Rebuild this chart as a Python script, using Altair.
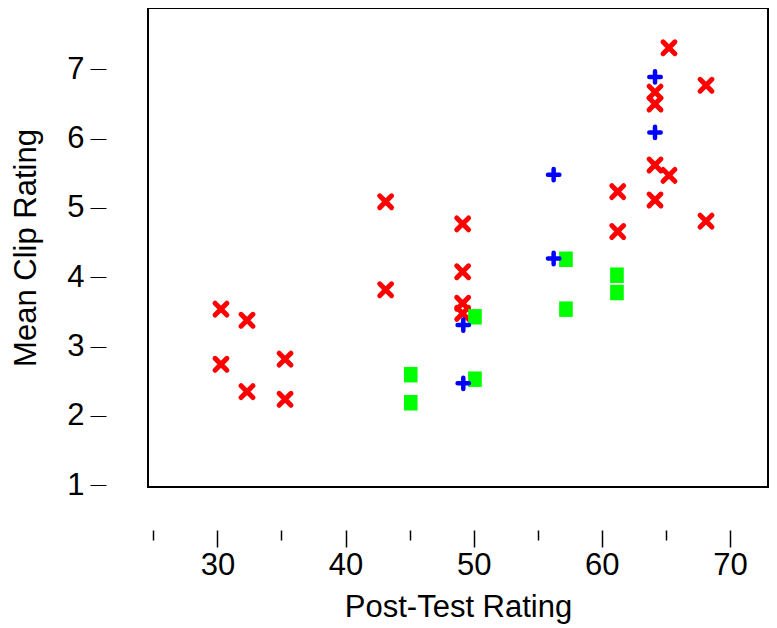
import altair as alt
import pandas as pd

# Red X series
red_x = [30.28, 32.31, 30.28, 32.31, 35.28, 35.28, 43.13, 43.13, 49.14, 49.14, 49.14,
         49.14, 61.24, 61.24, 65.24, 64.15, 64.15, 68.13, 64.15, 65.24, 64.15, 68.13]
red_y = [3.54, 3.38, 2.745, 2.35, 2.82, 2.24, 5.09, 3.82, 4.77, 4.08, 3.625,
         3.48, 5.235, 4.66, 7.31, 6.67, 6.50, 6.77, 5.62, 5.47, 5.115, 4.81]

# Blue plus series
blue_x = [49.19, 49.19, 56.24, 56.24, 64.15, 64.15]
blue_y = [3.31, 2.47, 5.48, 4.27, 6.89, 6.09]

# Green square series
green_x = [45.09, 45.09, 50.10, 50.10, 57.2, 57.2, 61.18, 61.18]
green_y = [2.595, 2.19, 3.43, 2.53, 4.26, 3.54, 4.03, 3.78]

x_ticks = [25, 30, 35, 40, 45, 50, 55, 60, 65, 70]
y_ticks = [1, 2, 3, 4, 5, 6, 7]

red_df = pd.DataFrame({"x": red_x, "y": red_y})
blue_df = pd.DataFrame({"x": blue_x, "y": blue_y})
green_df = pd.DataFrame({"x": green_x, "y": green_y})

FONT = "Liberation Sans"
FS = 31

x_enc = alt.X(
    "x:Q",
    scale=alt.Scale(domain=[24.586, 72.967], nice=False, zero=False),
    axis=alt.Axis(
        title="Post-Test Rating",
        values=x_ticks,
        labelExpr="datum.value % 10 === 0 ? datum.label : ''",
        tickSize={"condition": {"test": "datum.value % 10 === 0", "value": 17}, "value": 10},
        tickWidth=1.5,
        tickColor="black",
        offset=43,
        domain=False,
        grid=False,
        labelPadding=3,
        labelFontSize=FS,
        labelFont=FONT,
        labelColor="black",
        titleFontSize=FS,
        titleFont=FONT,
        titleFontWeight="normal",
        titleColor="black",
        titlePadding=12,
    ),
)

y_enc = alt.Y(
    "y:Q",
    scale=alt.Scale(domain=[0.975, 7.884], nice=False, zero=False),
    axis=alt.Axis(
        title="Mean Clip Rating",
        values=y_ticks,
        tickSize=16,
        tickWidth=1,
        tickColor="black",
        offset=42,
        domain=False,
        grid=False,
        labelPadding=6,
        labelFontSize=FS,
        labelFont=FONT,
        labelColor="black",
        titleFontSize=FS,
        titleFont=FONT,
        titleFontWeight="normal",
        titleColor="black",
        titlePadding=24,
    ),
)

red = alt.Chart(red_df).mark_point(
    shape="M-1,-1L1,1M-1,1L1,-1",
    filled=False,
    color="#FF0000",
    stroke="#FF0000",
    strokeWidth=5,
    strokeCap="round",
    size=140,
    opacity=1,
).encode(x=x_enc, y=y_enc)

green = alt.Chart(green_df).mark_point(
    shape="M-0.88,-1L0.88,-1L0.88,1L-0.88,1Z",
    filled=True,
    color="#00FF00",
    size=240,
    opacity=1,
    strokeWidth=0,
).encode(x=x_enc, y=y_enc)

blue = alt.Chart(blue_df).mark_point(
    shape="M-1,0L1,0M0,-1L0,1",
    filled=False,
    color="#0000FF",
    stroke="#0000FF",
    strokeWidth=4.5,
    strokeCap="round",
    size=130,
    opacity=1,
).encode(x=x_enc, y=y_enc)

chart = alt.layer(red, green, blue).properties(
    width=620,
    height=479,
    autosize=alt.AutoSizeParams(type="none"),
    padding={"left": 140, "top": 0, "right": 1, "bottom": 139},
    background="white",
).configure_view(
    stroke="black",
    strokeWidth=2,
)

chart.save("out.html", embed_options={"renderer": "svg", "actions": False})
